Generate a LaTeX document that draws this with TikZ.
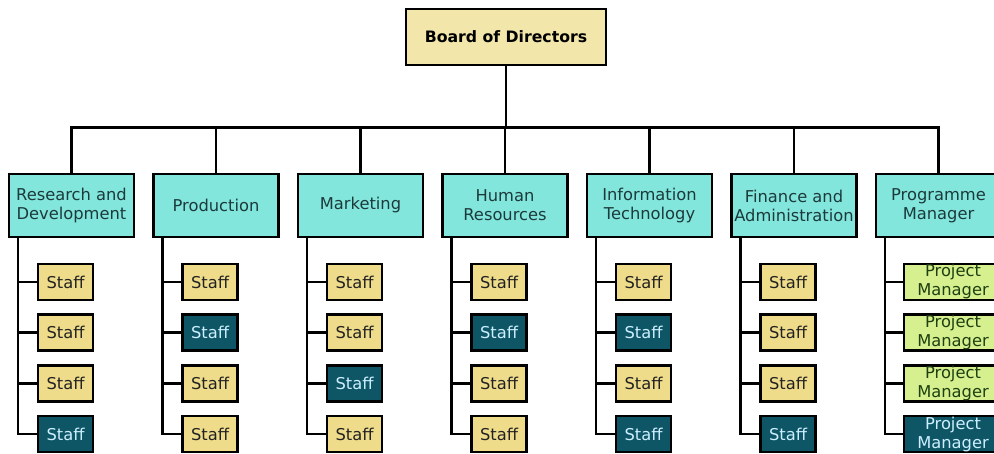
\documentclass[tikz,border=0pt]{standalone}
\usepackage{fontspec}
\setmainfont{DejaVu Sans}
\definecolor{boardfill}{HTML}{F2E6AA}
\definecolor{deptfill}{HTML}{82E6DD}
\definecolor{depttext}{HTML}{1C3A3A}
\definecolor{slt}{HTML}{EEDC8A}
\definecolor{sdk}{HTML}{0E5666}
\definecolor{tlt}{HTML}{222222}
\definecolor{tdk}{HTML}{CDEFFF}
\definecolor{plt}{HTML}{D6F090}
\definecolor{pdk}{HTML}{0E5666}
\definecolor{qlt}{HTML}{1E4010}
\definecolor{qdk}{HTML}{CDEFFF}
\tikzset{>=stealth}
\tikzset{
    box/.style={draw=black, line width=2.6pt, align=center, inner sep=0pt,
        font=\fontsize{16.3}{19}\selectfont},
    board/.style={box, fill=boardfill, minimum width=200, minimum height=56,
        font=\fontsize{15.7}{19}\selectfont\bfseries},
    dept/.style={box, fill=deptfill, text=depttext, minimum width=125, minimum height=63},
    staff/.style={box, fill=s#1, text=t#1, minimum width=55, minimum height=36},
    pm/.style={box, fill=p#1, text=q#1, minimum width=98, minimum height=36},
    link/.style={line width=2.6pt}
}

\begin{document}
\begin{tikzpicture}[x=1pt,y=-1pt]
    \useasboundingbox (0,0) rectangle (994,454);
    \node[board] (board) at (506,37) {Board of Directors};
    % departments
    \foreach \i/\name in {1/{Research and\\Development},2/Production,3/Marketing,4/{Human\\Resources},5/{Information\\Technology},6/{Finance and\\Administration},7/{Programme\\Manager}}{
        \node[dept] (d\i) at ({71.5+144.5*(\i-1)},205.5) {\name};
        \draw[link] (board.south) -- ++(0,61) -| (d\i.north);
    }
    % staff under each department
    \foreach \i/\kinds in {1/{lt,lt,lt,dk},2/{lt,dk,lt,lt},3/{lt,lt,dk,lt},4/{lt,dk,lt,lt},5/{lt,dk,lt,dk},6/{lt,lt,lt,dk}}{
        \foreach \k [count=\j] in \kinds {
            \node[staff=\k] (s\i-\j) at ({65.5+144.5*(\i-1)},{282+50.7*(\j-1)}) {Staff};
            \draw[link] ([xshift=-53.5]d\i.south) |- (s\i-\j.west);
        }
    }
    % project managers
    \foreach \k [count=\j] in {lt,lt,lt,dk}{
        \node[pm=\k] (p\j) at (953,{282+50.7*(\j-1)}) {Project\\Manager};
        \draw[link] ([xshift=-53.5]d7.south) |- (p\j.west);
    }
\end{tikzpicture}
\end{document}
